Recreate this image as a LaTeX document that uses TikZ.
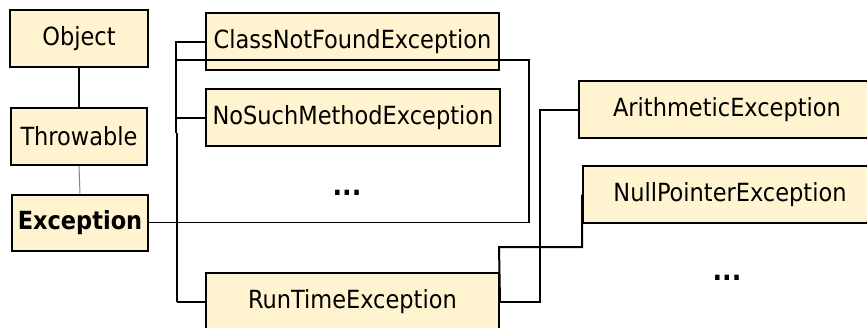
\documentclass[tikz,border=0pt]{standalone}
\usepackage{fontspec}
\setmainfont{DejaVu Sans Condensed}
\definecolor{boxfill}{HTML}{FFF3D0}
\begin{document}
\begin{tikzpicture}[x=1pt,y=-1pt,
  box/.style={draw, line width=2pt, fill=boxfill, minimum height=57pt, inner sep=0pt, font=\fontsize{25}{29}\selectfont},
  dots/.style={font=\fontsize{28}{30}\selectfont\bfseries, inner sep=0pt},
  conn/.style={line width=2pt},
  thinconn/.style={line width=1.1pt},
  grayconn/.style={line width=1pt, draw=gray}]
\clip (0,0) rectangle (867,327);
\fill[white] (0,0) rectangle (867,327);
% nodes
\node[box, minimum width=138pt] (obj) at (79,38.5) {Object};
\node[box, minimum width=136pt] (thr) at (79,136.5) {Throwable};
\node[box, minimum width=136pt, minimum height=56pt, font=\fontsize{25}{29}\selectfont\bfseries] (exc) at (80,222.5) {Exception};
\node[box, minimum width=293pt] (cnf) at (352.5,41.5) {ClassNotFoundException};
\node[box, minimum width=294pt] (nsm) at (353,117.5) {NoSuchMethodException};
\node[dots] (d1) at (347,193) {...};
\node[box, minimum width=293pt] (rte) at (352.5,301.5) {RunTimeException};
\node[box, minimum width=296pt] (ari) at (727,109.5) {ArithmeticException};
\node[box, minimum width=294pt] (npe) at (730,194.5) {NullPointerException};
\node[dots] (d2) at (727,278) {...};
% bend points
\coordinate (b1) at (176,133);
\coordinate (b2) at (176,60);
\coordinate (b3) at (529,60);
\coordinate (b4) at (529,222.5);
\coordinate (b5) at (177,133);
\coordinate (b6) at (177,301.5);
\coordinate (r1) at (499,247);
\coordinate (r2) at (582,247);
\coordinate (r3) at (540,301.5);
\coordinate (r4) at (540,109.5);
% connectors
\draw[conn] (obj.south) -- (thr.north);
\draw[grayconn] (thr.south) -- (exc.north);
\draw[conn] (cnf.west) -| (b1);
\draw[conn] (nsm.west) -- (nsm.west -| b1);
\draw[conn] (b2) -- (b3) -- (b4);
\draw[thinconn] (b4) -- (exc.east);
\draw[thinconn] (b5) -- (b6);
\draw[conn] (b6) -- (rte.west);
\draw[conn] (rte.east) -- (r1) -- (r2) |- (npe.west);
\draw[conn] (rte.east) -- (r3) -- (r4) -- (ari.west);
\end{tikzpicture}
\end{document}
